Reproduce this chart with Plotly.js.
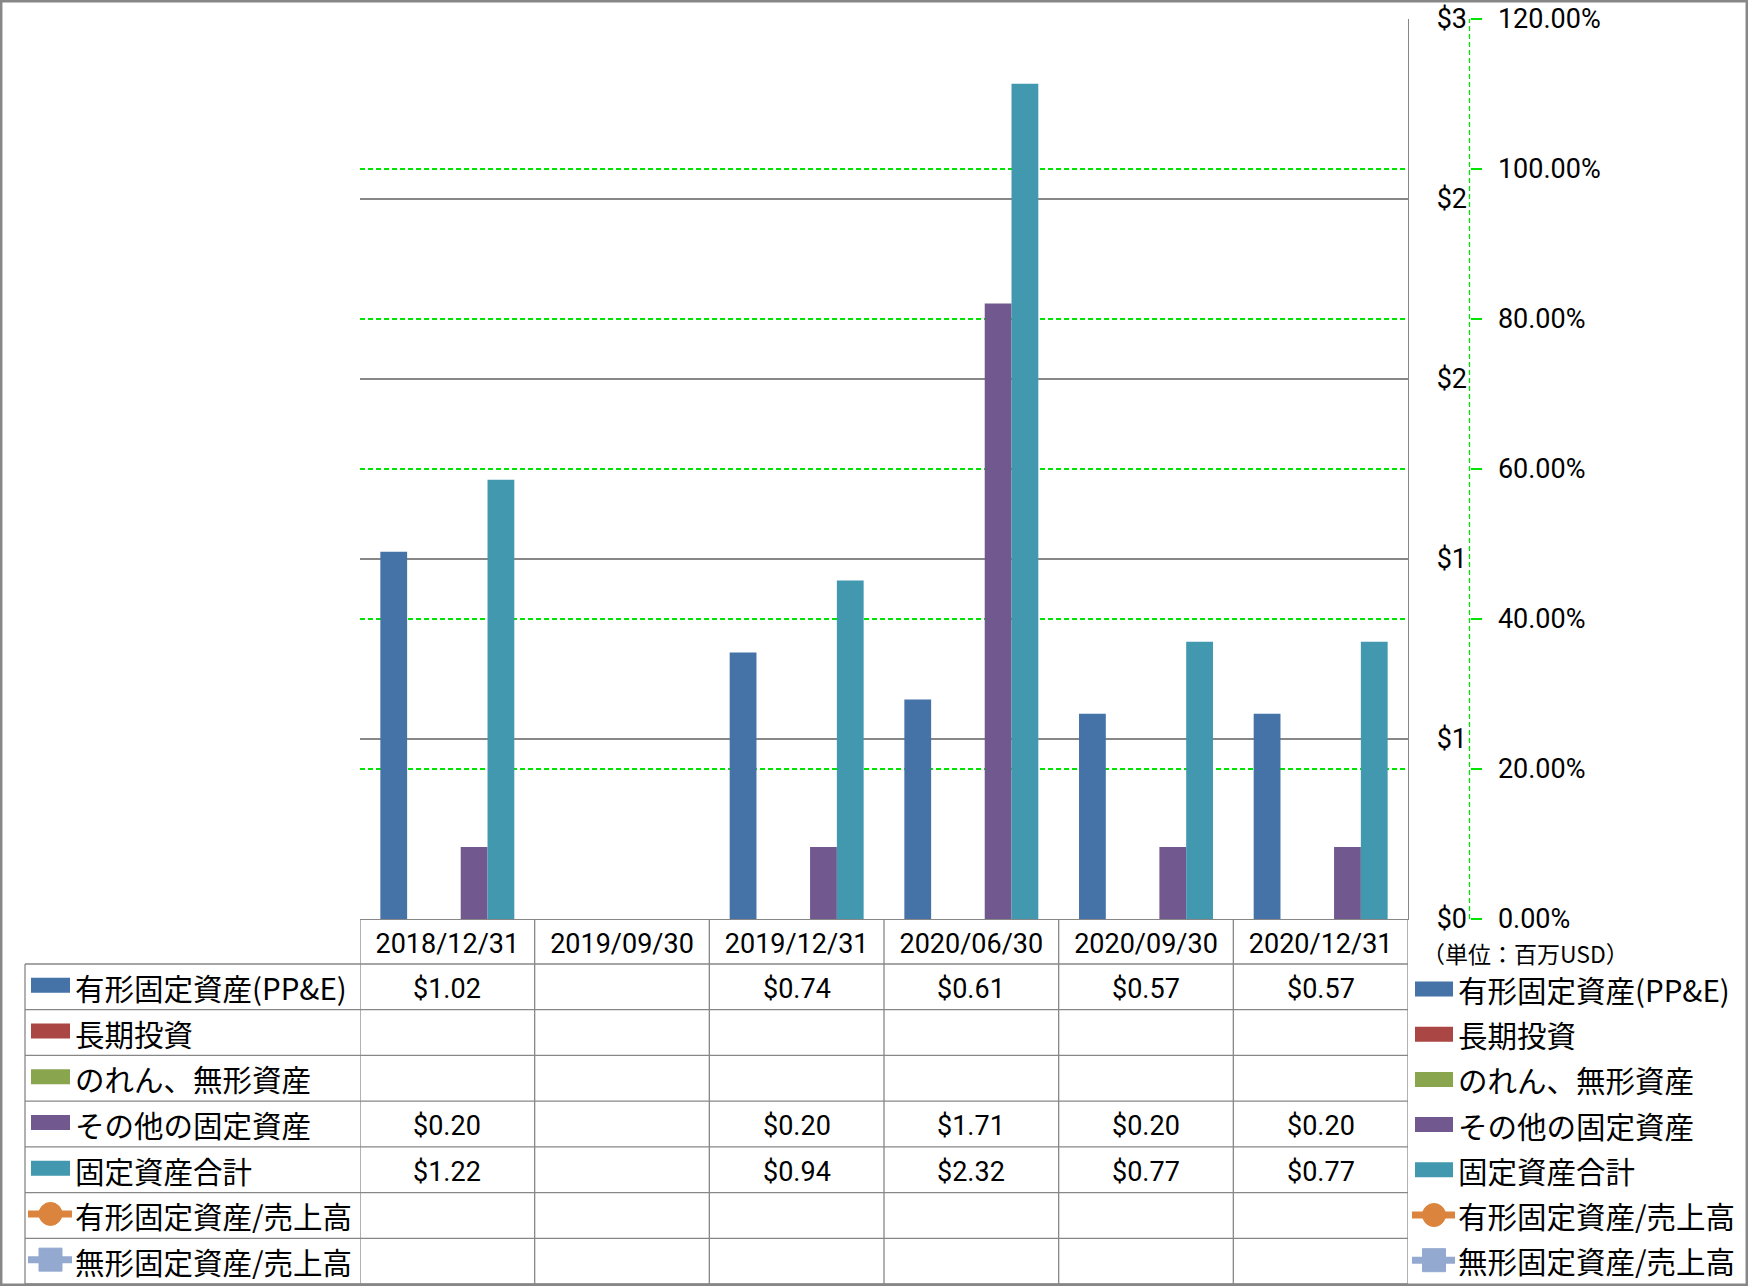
<!DOCTYPE html>
<html><head><meta charset="utf-8">
<script src="https://cdn.plot.ly/plotly-3.0.1.min.js"></script>
<style>html,body{margin:0;padding:0;background:#fff;} #chart{width:1748px;height:1286px;}</style>
</head><body><div id="chart"></div>
<script>
// ---------- data ----------
const categories = ['2018/12/31','2019/09/30','2019/12/31','2020/06/30','2020/09/30','2020/12/31'];
const ppe            = [1.02, null, 0.74, 0.61, 0.57, 0.57];
const longTermInvest = [null, null, null, null, null, null];
const goodwillIntang = [null, null, null, null, null, null];
const otherFixed     = [0.20, null, 0.20, 1.71, 0.20, 0.20];
const totalFixed     = [1.22, null, 0.94, 2.32, 0.77, 0.77];
const ppeToSales     = [null, null, null, null, null, null];
const intangToSales  = [null, null, null, null, null, null];
const seriesNames = ['有形固定資産(PP&E)','長期投資','のれん、無形資産','その他の固定資産','固定資産合計','有形固定資産/売上高','無形固定資産/売上高'];
const leftTickVals = [0, 0.5, 1, 1.5, 2, 2.5];
const leftTickText = ['$0','$1','$1','$2','$2','$3'];
const pctTickVals  = [0, 0.2, 0.4, 0.6, 0.8, 1.0, 1.2];
const pctTickText  = ['0.00%','20.00%','40.00%','60.00%','80.00%','100.00%','120.00%'];
const unitLabel = '（単位：百万USD）';

// ---------- styling / geometry ----------
const seriesValues = [ppe, longTermInvest, goodwillIntang, otherFixed, totalFixed, ppeToSales, intangToSales];
const seriesColors = ['#4572A7','#AA4643','#89A54E','#71588F','#4198AF','#DB843D','#93A9CF'];
const seriesKinds  = ['bar','bar','bar','bar','bar','lineCircle','lineSquare'];

const W = 1748, H = 1286;
const ML = 360, MR = 248, MT = 19, MB = 367;
const PW = W - ML - MR, PH = H - MT - MB;
const plotRight = 1408;
const px = v => (v - ML) / PW;
const py = v => (H - MB - v) / PH;

const gray = '#878787';
const green = '#00E400';
const numFont = {family: 'Roboto, "Open Sans", sans-serif', size: 27, color: '#000'};
const jpFont = {family: '"Noto Sans CJK JP", sans-serif', size: 29.5, color: '#000'};

const traces = seriesValues.map((vals, i) => {
  if (seriesKinds[i] === 'bar') {
    return {type: 'bar', name: seriesNames[i], x: categories, y: vals,
      marker: {color: seriesColors[i], line: {width: 0}}, xaxis: 'x', yaxis: 'y', hoverinfo: 'skip'};
  }
  return {type: 'scatter', mode: 'lines+markers', name: seriesNames[i], x: categories, y: vals,
    line: {color: seriesColors[i], width: 6},
    marker: {color: seriesColors[i], size: 20, symbol: seriesKinds[i] === 'lineCircle' ? 'circle' : 'square'},
    xaxis: 'x', yaxis: 'y2', hoverinfo: 'skip'};
});

const shapes = [];
const annotations = [];

// table geometry
const tableLeft = 25, headerTop = 919, rowTop = 964, tableBottom = 1284;
const nRows = seriesNames.length;
const rowH = (tableBottom - rowTop) / nRows;

// horizontal table lines
for (let k = 0; k <= nRows; k++) {
  const yy = rowTop + k * rowH;
  shapes.push({type: 'line', xref: 'paper', yref: 'paper', x0: px(tableLeft), x1: px(plotRight),
    y0: py(yy), y1: py(yy), line: {color: gray, width: 1.3}});
}
// vertical category boundaries
for (let i = 0; i <= categories.length; i++) {
  shapes.push({type: 'line', xref: 'x', yref: 'paper', x0: i - 0.5, x1: i - 0.5,
    y0: py(headerTop), y1: py(tableBottom), line: {color: gray, width: 1.3}});
}
// left edge of table
shapes.push({type: 'line', xref: 'paper', yref: 'paper', x0: px(tableLeft), x1: px(tableLeft),
  y0: py(rowTop), y1: py(tableBottom), line: {color: gray, width: 1.3}});

// legend key drawer
function addKey(i, xL, xR, yc) {
  const kind = seriesKinds[i], col = seriesColors[i];
  if (kind === 'bar') {
    shapes.push({type: 'rect', xref: 'paper', yref: 'paper', x0: px(xL), x1: px(xR),
      y0: py(yc - 7.5), y1: py(yc + 7.5), fillcolor: col, line: {width: 0}});
  } else {
    shapes.push({type: 'line', xref: 'paper', yref: 'paper', x0: px(xL - 3), x1: px(xR + 2),
      y0: py(yc), y1: py(yc), line: {color: col, width: 7}});
    const xc = (xL + xR) / 2, r = 11.5;
    shapes.push({type: kind === 'lineCircle' ? 'circle' : 'rect', xref: 'paper', yref: 'paper',
      x0: px(xc - r), x1: px(xc + r), y0: py(yc - r), y1: py(yc + r),
      fillcolor: col, line: {color: col, width: 1}});
  }
}

// table rows: left labels + cell values
seriesNames.forEach((name, i) => {
  const yc = rowTop + (i + 0.5) * rowH;
  addKey(i, 31, 70, yc - 1.5);
  annotations.push({xref: 'paper', yref: 'paper', x: px(73), y: py(yc), xanchor: 'left', yanchor: 'middle',
    text: name, showarrow: false, font: jpFont});
  seriesValues[i].forEach((v, j) => {
    if (v === null || v === undefined) return;
    annotations.push({xref: 'x', yref: 'paper', x: categories[j], y: py(yc + 2), xanchor: 'center', yanchor: 'middle',
      text: '$' + v.toFixed(2), showarrow: false, font: numFont});
  });
});

// right legend
seriesNames.forEach((name, i) => {
  const yc = 989 + i * 45.2;
  addKey(i, 1415, 1453, yc);
  annotations.push({xref: 'paper', yref: 'paper', x: px(1456), y: py(yc), xanchor: 'left', yanchor: 'middle',
    text: name, showarrow: false, font: jpFont});
});

// unit label
annotations.push({xref: 'paper', yref: 'paper', x: px(1420), y: py(953), xanchor: 'left', yanchor: 'middle',
  text: unitLabel, showarrow: false, font: {family: '"Noto Sans CJK JP", sans-serif', size: 23, color: '#000'}});

// secondary axis dashed line
const y2pos = px(1469.5);
shapes.push({type: 'line', xref: 'paper', yref: 'paper', x0: y2pos, x1: y2pos, y0: 0, y1: 1,
  line: {color: green, width: 1.3, dash: '5px,3px'}});

// outer border
shapes.push({type: 'rect', xref: 'paper', yref: 'paper', x0: px(1.2), x1: px(W - 1.2), y0: py(H - 1.2), y1: py(1.2),
  line: {color: gray, width: 2.5}, fillcolor: 'rgba(0,0,0,0)'});

const layout = {
  width: W, height: H,
  margin: {l: ML, r: MR, t: MT, b: MB, pad: 0},
  paper_bgcolor: '#fff', plot_bgcolor: '#fff',
  showlegend: false,
  barmode: 'group', bargap: 0.233, bargroupgap: 0,
  xaxis: {type: 'category', domain: [0, (plotRight - ML) / PW], range: [-0.5, categories.length - 0.5],
    showgrid: false, zeroline: false, showline: true, linecolor: gray, linewidth: 1.3,
    ticks: '', tickfont: numFont, ticklabelstandoff: 0, fixedrange: true},
  yaxis: {range: [0, 2.5], side: 'right', tickvals: leftTickVals, ticktext: leftTickText,
    showgrid: true, gridcolor: gray, gridwidth: 1.3, zeroline: false,
    showline: true, linecolor: gray, linewidth: 1.3, mirror: false,
    ticks: '', tickfont: numFont, ticklabelstandoff: 22, fixedrange: true},
  yaxis2: {range: [0, 1.2], overlaying: 'y', anchor: 'free', position: y2pos, side: 'right',
    tickvals: pctTickVals, ticktext: pctTickText,
    showgrid: true, gridcolor: green, gridwidth: 1.1, griddash: '5px,3px', zeroline: false,
    showline: false, ticks: 'outside', ticklen: 11, tickcolor: green, tickwidth: 1.1,
    tickfont: numFont, ticklabelstandoff: 11, fixedrange: true},
  shapes: shapes,
  annotations: annotations,
  font: numFont
};

Plotly.newPlot('chart', traces, layout, {staticPlot: true, displayModeBar: false});
</script>
</body></html>
